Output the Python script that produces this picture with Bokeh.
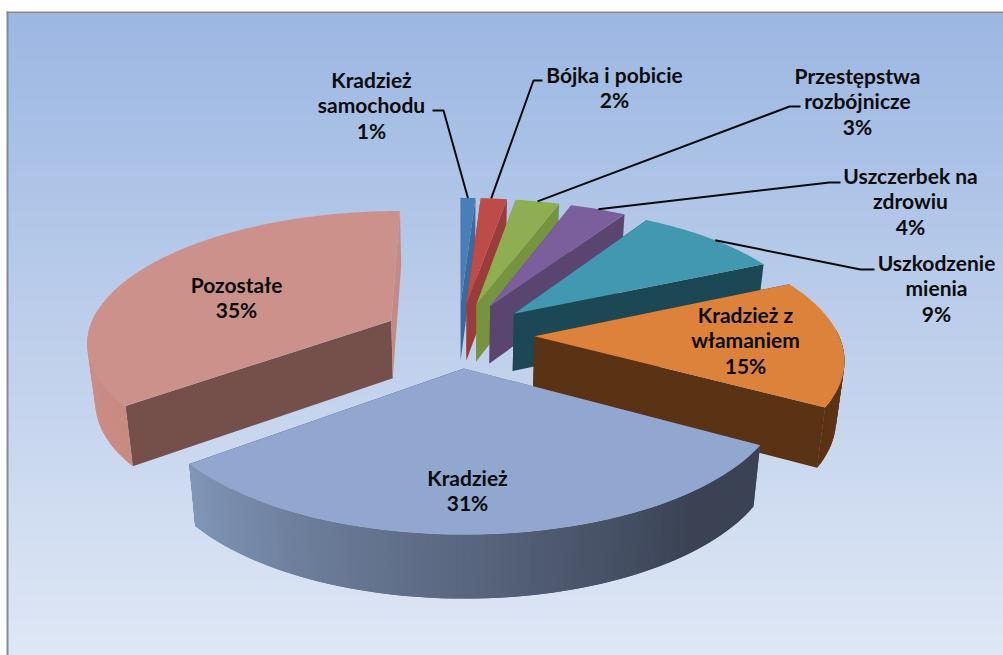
import math
from bokeh.plotting import figure
from bokeh.models import Range1d
from bokeh.core.properties import value
from bokeh.embed import file_html
from bokeh.resources import INLINE

# ---- data ----
categories = ["Kradzież samochodu", "Bójka i pobicie", "Przestępstwa rozbójnicze",
              "Uszczerbek na zdrowiu", "Uszkodzenie mienia", "Kradzież z włamaniem",
              "Kradzież", "Pozostałe"]
printed_percent = [1, 2, 3, 4, 9, 15, 31, 35]
# shares (the printed labels are rounded)
shares = [0.94, 1.64, 2.75, 3.5, 9.2, 15.4, 31.0, 35.57]
label_lines = [["Kradzież", "samochodu"], ["Bójka i pobicie"], ["Przestępstwa", "rozbójnicze"],
               ["Uszczerbek na", "zdrowiu"], ["Uszkodzenie", "mienia"], ["Kradzież z", "włamaniem"],
               ["Kradzież"], ["Pozostałe"]]
top_colors = ["#4a7eb9", "#bd4b47", "#8fae52", "#7b5e9c", "#4298b0", "#dc823b", "#92a7cf", "#cd918c"]
start_wall = ["#3c6a9f", "#9c3c3a", "#76933f", "#59456f", "#1c4855", "#5a3314", "#5a6a85", "#75504b"]
end_wall = ["#3c6a9f", "#9c3c3a", "#76933f", "#59456f", "#1c4855", "#5a3314", "#3a4254", "#c58a84"]
outer_from = ["#3c6a9f", "#9c3c3a", "#76933f", "#59456f", "#1c4855", "#6a3a12", "#3a4254", "#c98a82"]
outer_to = ["#3c6a9f", "#9c3c3a", "#76933f", "#59456f", "#1c4855", "#5a3314", "#8196b8", "#cf9890"]

# ---- projection of the tilted, exploded pie ----
CX, CY, RAD, FLAT, PERSP, EXPLODE, WALL, SHRINK = 458, 334.2, 304, 130, 0.15, 0.25, 58, 0.022


def project(x, y, low=False):
    s = 1 / (1 + PERSP * y)
    u = CX + RAD * x * s
    v = CY - FLAT * y * s
    if low:
        u = CX + (u - CX) * (1 - SHRINK)
        v += WALL * (0.55 + 0.45 * s)
    return u, v


def mix(a, b, t):
    ca = [int(a[i:i + 2], 16) for i in (1, 3, 5)]
    cb = [int(b[i:i + 2], 16) for i in (1, 3, 5)]
    return "#%02x%02x%02x" % tuple(round(p + (q - p) * t) for p, q in zip(ca, cb))


p = figure(width=1003, height=655, x_range=Range1d(0, 1003), y_range=Range1d(655, 0),
           toolbar_location=None, output_backend="svg", min_border=0, outline_line_color=None)
p.axis.visible = False
p.grid.visible = False
p.background_fill_color = "white"
p.border_fill_color = "white"

# background gradient and frame (each strip runs to the bottom so no seams show)
strips = list(range(13, 655, 3))
n = len(strips)
p.quad(left=7, right=1003, top=strips, bottom=655,
       fill_color=[mix("#9cb7e2", "#dfe7f5", i / (n - 1)) for i in range(n)], line_color=None)
p.quad(left=6, right=1003, top=11, bottom=13, fill_color="#858a94", line_color=None)
p.quad(left=6, right=8, top=11, bottom=655, fill_color="#858a94", line_color=None)

# slice angles from the shares, clockwise from the top
total = sum(shares)
edges = [0.0]
for v in shares:
    edges.append(edges[-1] + 2 * math.pi * v / total)

apex, arcs = [], []
for i in range(len(shares)):
    a0, a1 = edges[i], edges[i + 1]
    mid = (a0 + a1) / 2
    ox, oy = EXPLODE * math.sin(mid), EXPLODE * math.cos(mid)
    apex.append((ox, oy))
    steps = max(4, int((a1 - a0) / 0.02))
    arcs.append([(ox + math.sin(a0 + (a1 - a0) * k / steps), oy + math.cos(a0 + (a1 - a0) * k / steps))
                 for k in range(steps + 1)])

for i in [0, 1, 2, 3, 4, 5, 7, 6]:
    ap, arc = apex[i], arcs[i]
    for pt, col in ((arc[0], start_wall[i]), (arc[-1], end_wall[i])):
        q = [project(*ap), project(*pt), project(*pt, low=True), project(*ap, low=True)]
        p.patch([c[0] for c in q], [c[1] for c in q], fill_color=col, line_color=None)
    # outer wall, only where it faces the viewer; each piece overlaps the next
    for k in range(len(arc) - 1):
        th = edges[i] + (edges[i + 1] - edges[i]) * (k + 0.5) / (len(arc) - 1)
        if math.pi * 0.48 < th < math.pi * 1.52:
            t = (th - edges[i]) / (edges[i + 1] - edges[i])
            col = mix(outer_from[i], outer_to[i], t)
            if i == 6:
                col = mix(outer_from[i], outer_to[i], min(1, max(0, (t - 0.18) / 0.82)))
            nxt = arc[min(k + 2, len(arc) - 1)]
            q = [project(*arc[k]), project(*nxt), project(*nxt, low=True), project(*arc[k], low=True)]
            p.patch([c[0] for c in q], [c[1] for c in q], fill_color=col, line_color=None)
    pts = [project(*ap)] + [project(*c) for c in arc]
    p.patch([c[0] for c in pts], [c[1] for c in pts], fill_color=top_colors[i], line_color=None)

# leader lines: slice index, arc fraction, elbow and tail of the callout
leaders = [(0, 0.5, (443, 110), (432, 110)), (1, 0.5, (533, 80), (542, 80)),
           (2, 0.5, (789, 106), (800, 106)), (3, 0.5, (829, 182), (840, 182)),
           (4, 0.55, (860, 269), (874, 269))]
for i, f, elbow, tail in leaders:
    c = arcs[i][round(f * (len(arcs[i]) - 1))]
    u, v = project(*c)
    p.line([u, elbow[0], tail[0]], [v, elbow[1], tail[1]], line_color="#0a0a0a", line_width=2)

# labels: x centre and y centre of the first line
label_pos = [(371, 78.5), (614, 73.5), (857, 74.5), (910, 174.5), (936, 261.5), (745, 313.5), (467, 476.5), (236, 283.5)]
LINE = 25.7
xs, ys, txt = [], [], []
for lines, v, (x, y) in zip(label_lines, printed_percent, label_pos):
    for j, t in enumerate(lines + [f"{v}%"]):
        xs.append(x)
        ys.append(y + j * LINE)
        txt.append(t)
p.text(xs, ys, text=txt, text_font=value("Lato"), text_font_style="bold", text_font_size="21px",
       text_align="center", text_baseline="middle", text_color="#0c0c0c")

open("out.html", "w").write(file_html(p, INLINE))
